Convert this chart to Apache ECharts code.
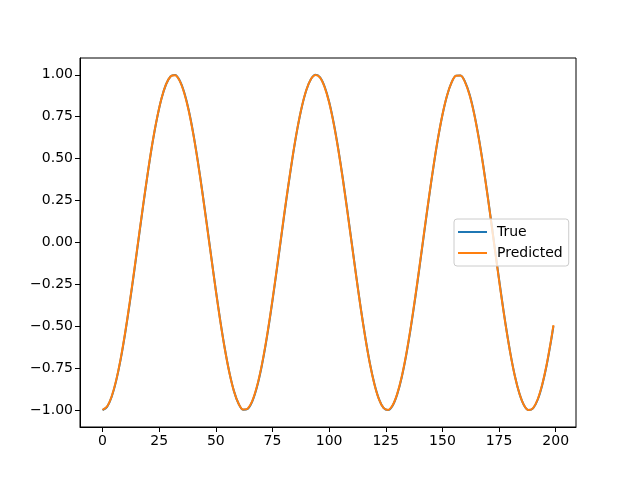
<!DOCTYPE html>
<html>
<head>
<meta charset="utf-8">
<script src="https://cdn.jsdelivr.net/npm/echarts@6/dist/echarts.min.js"></script>
<style>html,body{margin:0;padding:0;background:#fff}#c{width:640px;height:480px}</style>
</head>
<body>
<div id="c"></div>
<script>
var xValues = [0,2,4,6,8,10,12,14,16,18,20,22,24,26,28,30,32,34,36,38,40,42,44,46,48,50,52,54,56,58,60,62,64,66,68,70,72,74,76,78,80,82,84,86,88,90,92,94,96,98,100,102,104,106,108,110,112,114,116,118,120,122,124,126,128,130,132,134,136,138,140,142,144,146,148,150,152,154,156,158,160,162,164,166,168,170,172,174,176,178,180,182,184,186,188,190,192,194,196,198,199];
var trueValues = [-1.000,-0.980,-0.921,-0.825,-0.697,-0.540,-0.362,-0.170,0.029,0.227,0.416,0.589,0.737,0.857,0.942,0.990,0.998,0.967,0.897,0.791,0.654,0.490,0.307,0.112,-0.087,-0.284,-0.469,-0.635,-0.776,-0.886,-0.960,-0.997,-0.993,-0.950,-0.869,-0.754,-0.609,-0.439,-0.251,-0.054,0.146,0.339,0.519,0.679,0.811,0.911,0.975,1.000,0.985,0.930,0.839,0.714,0.561,0.386,0.194,-0.004,-0.203,-0.394,-0.568,-0.721,-0.844,-0.934,-0.986,-0.999,-0.973,-0.907,-0.806,-0.673,-0.512,-0.331,-0.137,0.063,0.260,0.447,0.616,0.760,0.874,0.953,0.995,0.996,0.958,0.882,0.770,0.628,0.461,0.275,0.079,-0.121,-0.316,-0.498,-0.661,-0.797,-0.901,-0.970,-0.999,-0.989,-0.939,-0.852,-0.732,-0.582,-0.498];
var predictedValues = [-0.998,-0.978,-0.918,-0.822,-0.692,-0.535,-0.356,-0.164,0.035,0.232,0.420,0.593,0.740,0.859,0.943,0.990,0.997,0.965,0.893,0.787,0.649,0.485,0.302,0.106,-0.092,-0.289,-0.473,-0.638,-0.778,-0.887,-0.960,-0.996,-0.991,-0.947,-0.865,-0.749,-0.603,-0.433,-0.245,-0.048,0.152,0.344,0.523,0.682,0.813,0.912,0.975,0.999,0.983,0.926,0.834,0.709,0.556,0.380,0.188,-0.010,-0.208,-0.398,-0.572,-0.724,-0.846,-0.935,-0.986,-0.998,-0.971,-0.904,-0.802,-0.668,-0.506,-0.325,-0.131,0.069,0.265,0.451,0.619,0.762,0.875,0.953,0.994,0.995,0.955,0.878,0.766,0.623,0.456,0.270,0.073,-0.127,-0.321,-0.502,-0.664,-0.799,-0.902,-0.970,-0.998,-0.987,-0.936,-0.848,-0.727,-0.577,-0.493];
var xTicks = [0,25,50,75,100,125,150,175,200];
var yTicks = [-1.00,-0.75,-0.50,-0.25,0.00,0.25,0.50,0.75,1.00];
var seriesNames = ['True','Predicted'];

function pairs(xs, ys){ return xs.map(function(x,i){ return [x, ys[i]]; }); }
var font = 'DejaVu Sans';
var chart = echarts.init(document.getElementById('c'), null, {renderer:'canvas'});
chart.setOption({
  animation:false,
  backgroundColor:'#fff',
  grid:{left:80,right:64,top:58,bottom:53,show:true,borderColor:'#000',borderWidth:1,backgroundColor:'transparent'},
  legend:{
    left:454, top:219, orient:'vertical',
    data:seriesNames,
    icon:'rect', itemWidth:29, itemHeight:2, itemGap:7,
    padding:[6,6,6,4],
    backgroundColor:'rgba(255,255,255,0.8)',
    borderColor:'#cccccc', borderWidth:1, borderRadius:3,
    textStyle:{fontFamily:font,fontSize:14,color:'#000',padding:[0,0,0,5]}
  },
  xAxis:{
    type:'value', min:-9.95, max:208.95,
    splitLine:{show:false},
    axisLine:{show:true,onZero:false,lineStyle:{color:'#000',width:1}},
    axisTick:{show:true,length:5,lineStyle:{color:'#000'},customValues:xTicks},
    axisLabel:{fontFamily:font,fontSize:14,color:'#000',margin:7,customValues:xTicks,formatter:function(v){return String(v);}}
  },
  yAxis:{
    type:'value', min:-1.1, max:1.1,
    splitLine:{show:false},
    axisLine:{show:true,onZero:false,lineStyle:{color:'#000',width:1}},
    axisTick:{show:true,length:5,lineStyle:{color:'#000'},customValues:yTicks},
    axisLabel:{fontFamily:font,fontSize:14,color:'#000',margin:7,customValues:yTicks,formatter:function(v){return v.toFixed(2).replace('-','\u2212');}}
  },
  series:[
    {name:seriesNames[0],type:'line',data:pairs(xValues,trueValues),showSymbol:false,symbol:'none',smooth:0.3,lineStyle:{color:'#1f77b4',width:2},itemStyle:{color:'#1f77b4'}},
    {name:seriesNames[1],type:'line',data:pairs(xValues,predictedValues),showSymbol:false,symbol:'none',smooth:0.3,lineStyle:{color:'#ff7f0e',width:2},itemStyle:{color:'#ff7f0e'}}
  ]
});
</script>
</body>
</html>
